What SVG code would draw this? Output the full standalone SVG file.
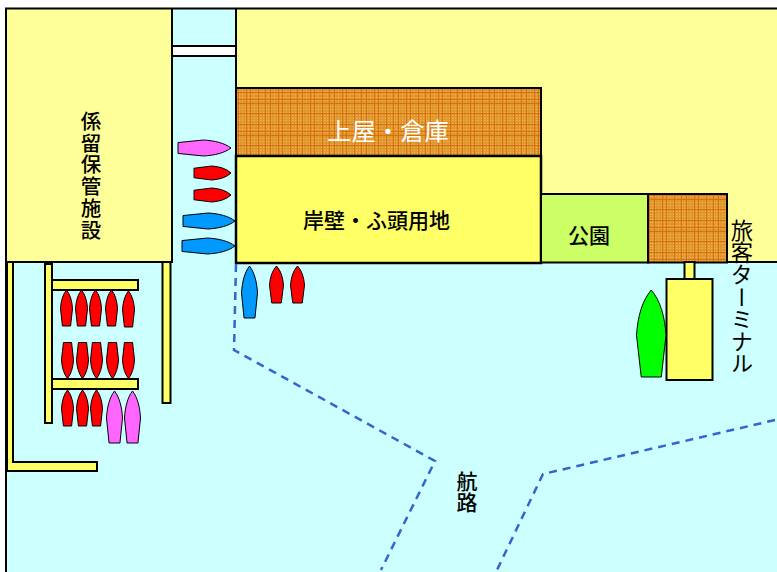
<svg xmlns="http://www.w3.org/2000/svg" width="777" height="572" viewBox="0 0 777 572">
<style>
.land{fill:#FFFF99;stroke:none}
.edge{fill:none;stroke:#000;stroke-width:2}
.yel{fill:#FFFF66;stroke:#000;stroke-width:2}
.hat{fill:url(#hatch);stroke:#000;stroke-width:2}
.boat{stroke:#000;stroke-width:1;vector-effect:non-scaling-stroke}
.red{fill:#FF0000}.pink{fill:#FF66FF}.blue{fill:#0099FF}.green{fill:#00FF00}
.dash{fill:none;stroke:#3366CC;stroke-width:2.500;stroke-dasharray:8 6}
text{font-family:"Noto Sans CJK JP","Liberation Sans",sans-serif;fill:#000;font-size:20px}
.v{writing-mode:vertical-rl;text-anchor:start}
</style>
<defs>
<pattern id="dots" width="3" height="3" patternUnits="userSpaceOnUse">
<rect width="3" height="3" fill="#E19A30"/>
<rect width="1" height="1" fill="#EDB65C"/>
<rect x="1.500" y="1.500" width="1" height="1" fill="#D98A20"/>
</pattern>
<pattern id="hatch" width="32" height="32" patternUnits="userSpaceOnUse" x="236" y="88">
<rect width="32" height="32" fill="url(#dots)"/>
<path d="M0 4.500H32M0 11.500H32M0 15.500H32M0 25.500H32M2.500 0V32M10.500 0V32M14.500 0V32M22.500 0V32M29.500 0V32" stroke="#D9700C" stroke-width="1"/>
</pattern>
<path id="b" class="boat" d="M.5 0C.8 .12 .96 .3 1 .52L.84 1H.16L0 .52C.04 .3 .2 .12 .5 0Z"/>
</defs>
<rect width="777" height="572" fill="#fff"/>
<rect x="6" y="9" width="771" height="563" fill="#CCFFFF"/>
<rect class="land" x="6" y="9" width="166" height="253"/>
<rect class="land" x="236" y="9" width="541" height="253"/>
<g id="frame">
<path class="edge" d="M777 8.500H6V572"/>
<path class="edge" d="M6 262H172V9M236 9V262H777"/>
</g>
<g id="lock"><rect x="172" y="46" width="64" height="10" fill="#fff" stroke="#000" stroke-width="2"/></g>
<g id="warehouse"><rect class="hat" x="236" y="88" width="305" height="68"/><text x="327" y="140" style="font-size:24.400px;fill:#fff">上屋・倉庫</text></g>
<g id="yard"><rect class="yel" x="236" y="156" width="305" height="107" style="stroke-width:2.500"/><text x="303" y="228" style="font-size:21px;font-weight:500">岸壁・ふ頭用地</text></g>
<g id="park"><rect x="541" y="194" width="107" height="68.500" fill="#CCFF66" stroke="#000" stroke-width="2"/><text x="568" y="243" style="font-size:21px;font-weight:500">公園</text></g>
<g id="terminal-building"><rect class="hat" x="648" y="194" width="79" height="68.500"/></g>
<g id="terminal-label"><text class="v" x="742" y="219" style="font-size:22.300px">旅客ターミナル</text></g>
<g id="bridge"><rect class="yel" x="684.500" y="262" width="10" height="17"/></g>
<g id="pontoon"><rect class="yel" x="666.500" y="279" width="46" height="101"/></g>
<g id="piers">
<path class="yel" d="M7 262H13V462H97V471H7Z"/>
<rect class="yel" x="45" y="264" width="7" height="159"/>
<rect class="yel" x="52" y="280" width="86" height="10"/>
<rect class="yel" x="52" y="379" width="86" height="10"/>
<rect class="yel" x="162.500" y="262" width="8" height="141"/>
</g>
<g id="boats">
<use href="#b" class="red" transform="translate(60.500 290) scale(12 36)"/>
<use href="#b" class="red" transform="translate(75.500 290) scale(12 36)"/>
<use href="#b" class="red" transform="translate(89.500 290) scale(12 36)"/>
<use href="#b" class="red" transform="translate(105.500 290) scale(12 36)"/>
<use href="#b" class="red" transform="translate(122.500 291) scale(12 36)"/>
<use href="#b" class="red" transform="translate(61.500 378.500) scale(12 -36)"/>
<use href="#b" class="red" transform="translate(76.500 378.500) scale(12 -36)"/>
<use href="#b" class="red" transform="translate(90.500 378.500) scale(12 -36)"/>
<use href="#b" class="red" transform="translate(106.500 378.500) scale(12 -36)"/>
<use href="#b" class="red" transform="translate(122.500 378.500) scale(12 -36)"/>
<use href="#b" class="red" transform="translate(61.500 390) scale(12 36)"/>
<use href="#b" class="red" transform="translate(76.500 390) scale(12 36)"/>
<use href="#b" class="red" transform="translate(90.500 390) scale(12 36)"/>
<use href="#b" class="pink" transform="translate(106.500 391) scale(16 52)"/>
<use href="#b" class="pink" transform="translate(124.500 391) scale(16 52)"/>
<use href="#b" class="pink" transform="translate(231 140) rotate(90) scale(16 53)"/>
<use href="#b" class="red" transform="translate(231 166) rotate(90) scale(14 37)"/>
<use href="#b" class="red" transform="translate(231 188) rotate(90) scale(14 37)"/>
<use href="#b" class="blue" transform="translate(235 213) rotate(90) scale(16 52)"/>
<use href="#b" class="blue" transform="translate(235 238) rotate(90) scale(16 53)"/>
<use href="#b" class="blue" transform="translate(241.500 266) scale(16 52)"/>
<use href="#b" class="red" transform="translate(269.500 266) scale(14 37)"/>
<use href="#b" class="red" transform="translate(290.500 266) scale(14 37)"/>
<use href="#b" class="green" transform="translate(636.500 290) scale(29.500 87)"/>
</g>
<g id="connectors">
<path class="dash" d="M236 264L234 350L435 461L381 570"/>
<path class="dash" d="M775 420L543 474L497 570"/>
</g>
<g id="labels">
<text class="v" x="91" y="111" style="font-size:20.500px;letter-spacing:1.200px;font-weight:500">係留保管施設</text>
<text class="v" x="467" y="471" style="font-size:21px;font-weight:500">航路</text>
</g>
</svg>
